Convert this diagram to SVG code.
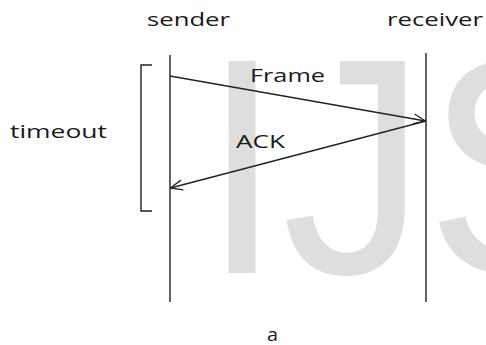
<svg xmlns="http://www.w3.org/2000/svg" width="486" height="345" viewBox="0 0 486 345">
  <style>
    .lbl { font-family: "Open Sans", "Liberation Sans", sans-serif; font-size: 18px; fill: #1a1a1a; }
    .life { stroke: #222; stroke-width: 1.4; fill: none; }
    .msg { stroke: #222; stroke-width: 1.3; fill: none; marker-end: url(#openArrow); }
    .wm { font-family: "Liberation Sans", Arial, sans-serif; font-size: 288px; fill: #dedede; }
  </style>
  <defs>
    <marker id="openArrow" viewBox="0 0 14 12" refX="13" refY="6" markerWidth="14" markerHeight="12" markerUnits="userSpaceOnUse" orient="auto">
      <path d="M1,1 L13,6 L1,11" fill="none" stroke="#222" stroke-width="1.3"/>
    </marker>
  </defs>

  <rect width="486" height="345" fill="#ffffff"/>

  <!-- background watermark -->
  <text class="wm" transform="translate(202,273) scale(1,1.07)" x="0" y="0">IJS</text>

  <g id="sender">
    <text class="lbl" x="147" y="26" textLength="83" lengthAdjust="spacingAndGlyphs">sender</text>
    <line class="life" x1="170" y1="55" x2="170" y2="302"/>
  </g>

  <g id="receiver">
    <text class="lbl" x="387" y="26" textLength="96" lengthAdjust="spacingAndGlyphs">receiver</text>
    <line class="life" x1="426" y1="53" x2="426" y2="302"/>
  </g>

  <g id="timeout">
    <path class="life" d="M152,65 H141 V211 H152"/>
    <text class="lbl" x="10" y="138" textLength="97" lengthAdjust="spacingAndGlyphs">timeout</text>
  </g>

  <g id="connectors">
    <line class="msg" x1="170" y1="76" x2="425.5" y2="121"/>
    <text class="lbl" x="250" y="82" textLength="75" lengthAdjust="spacingAndGlyphs">Frame</text>
    <line class="msg" x1="426" y1="121" x2="170.5" y2="188"/>
    <text class="lbl" x="236" y="148" textLength="49" lengthAdjust="spacingAndGlyphs">ACK</text>
  </g>

  <g id="caption">
    <text class="lbl" x="267" y="341" textLength="11" lengthAdjust="spacingAndGlyphs">a</text>
  </g>
</svg>
